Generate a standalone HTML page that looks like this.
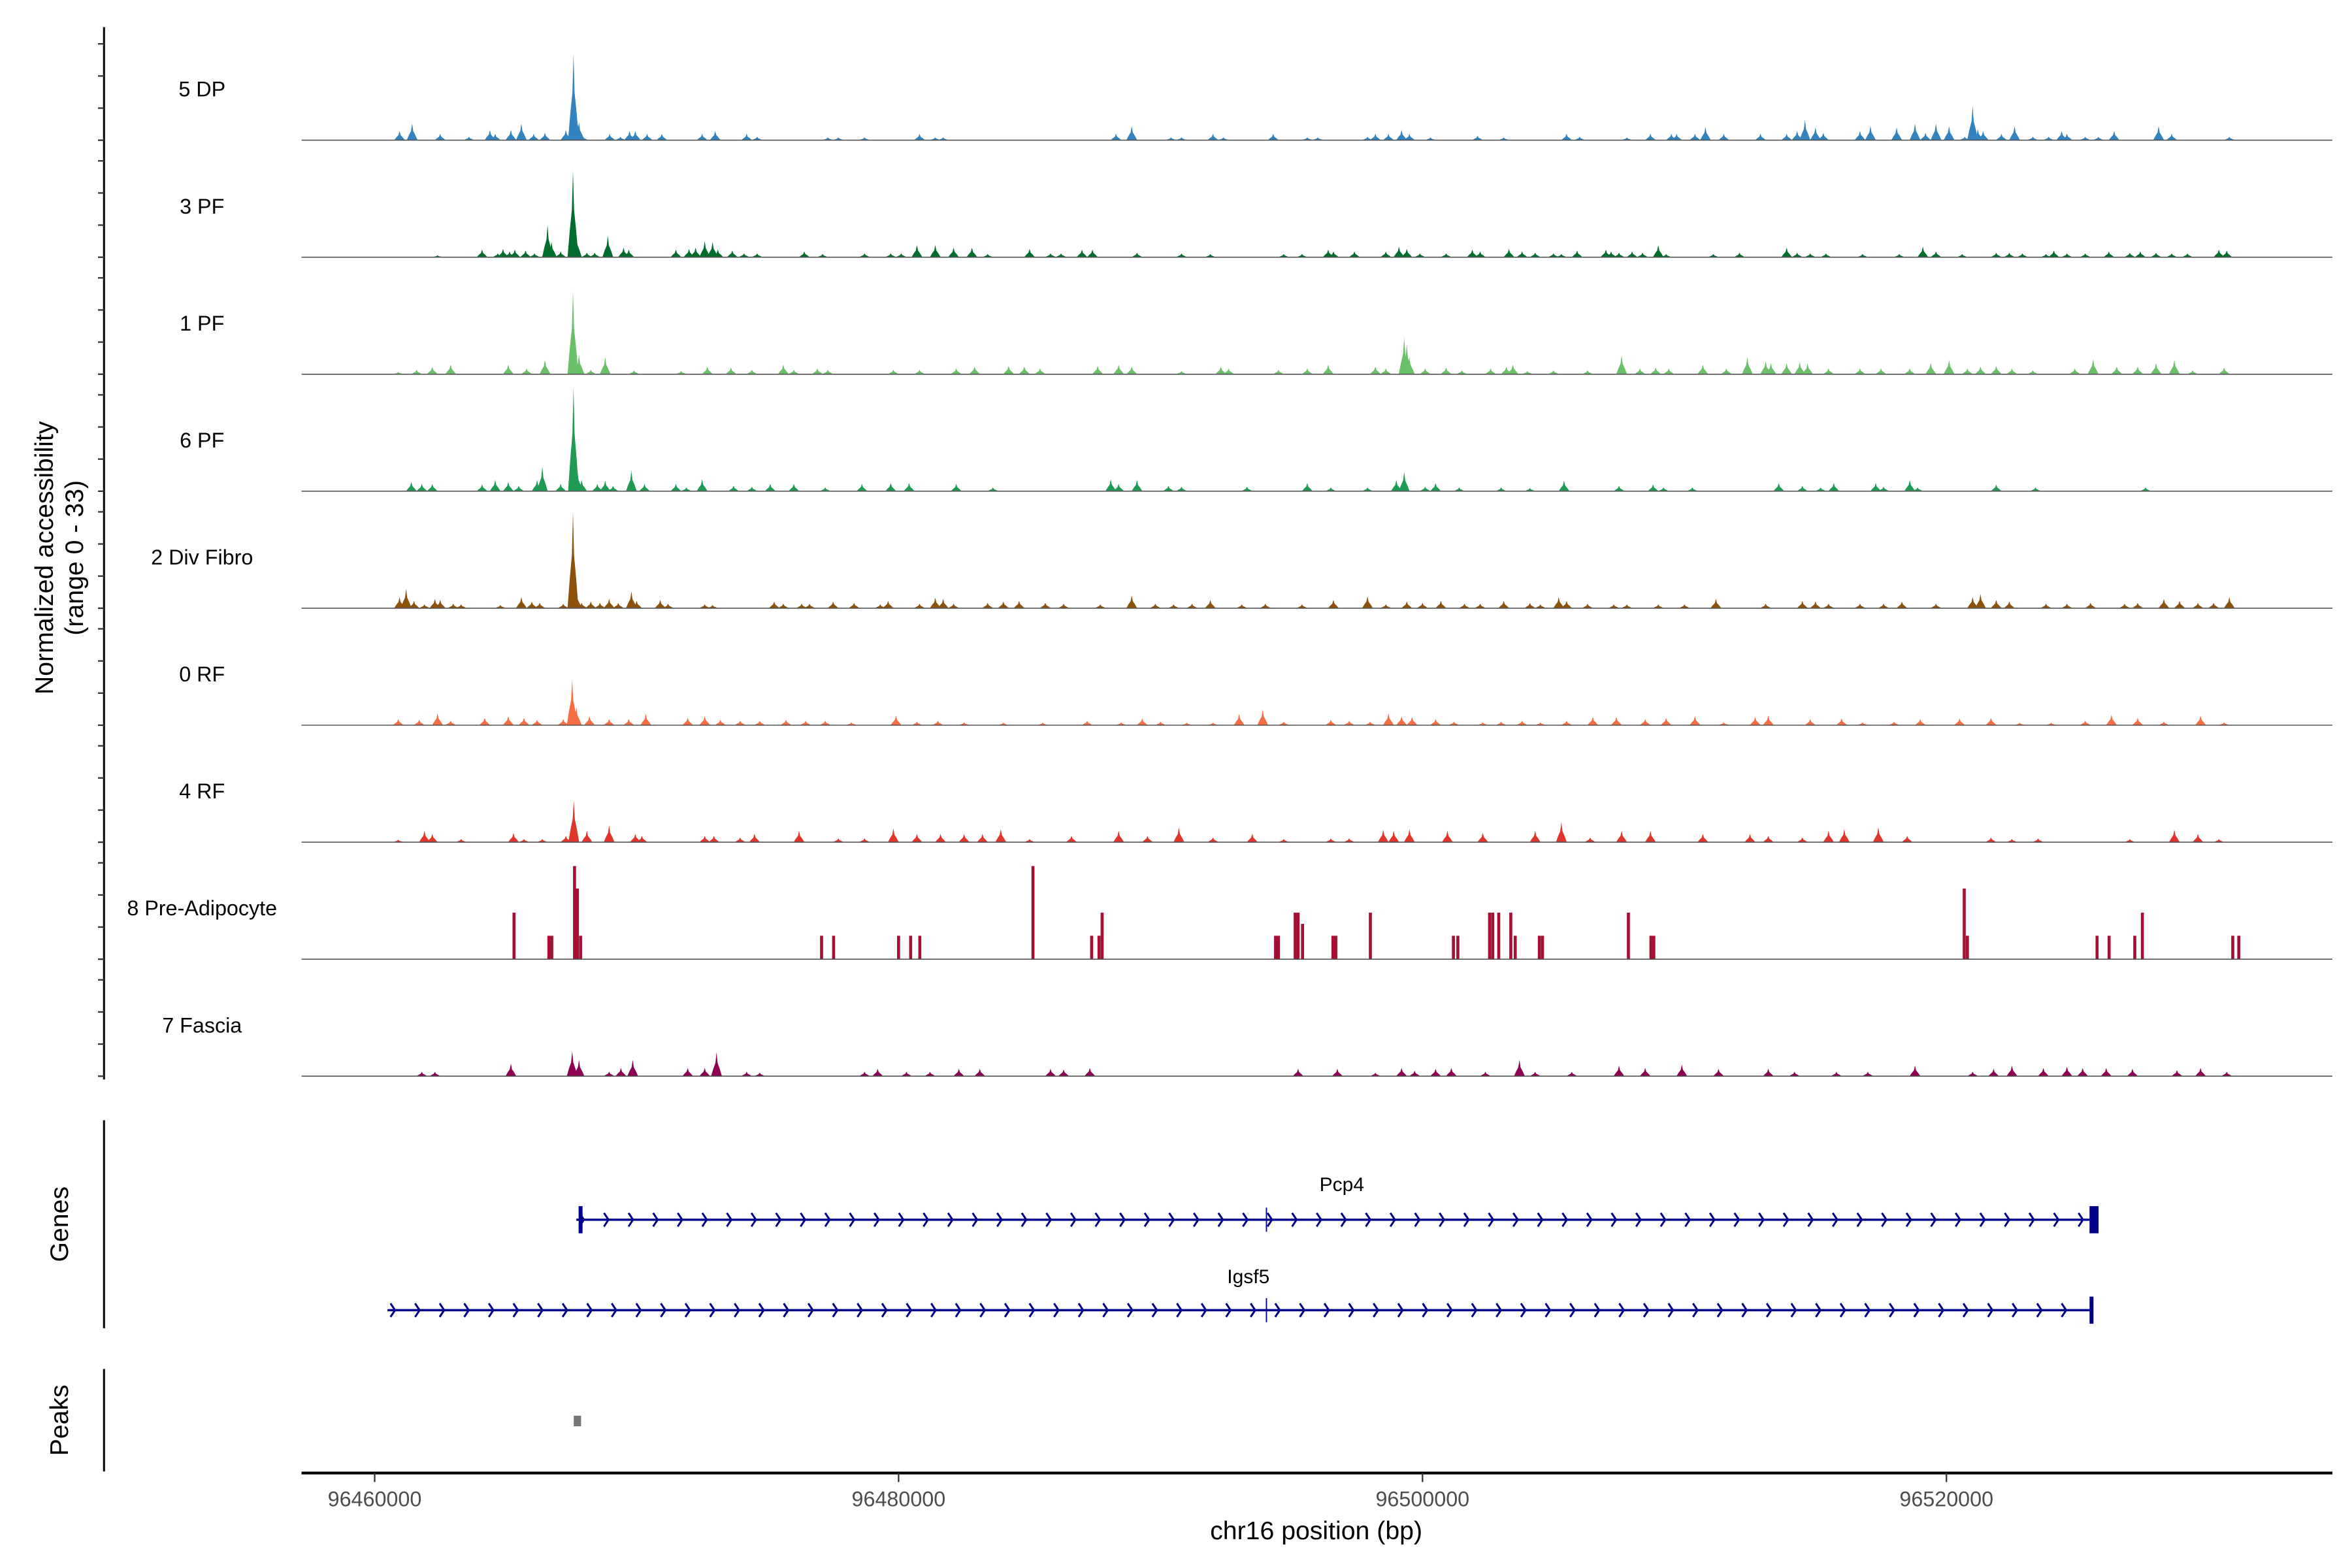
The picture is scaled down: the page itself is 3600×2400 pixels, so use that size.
<!DOCTYPE html>
<html><head><meta charset="utf-8"><title>Coverage plot chr16</title>
<style>
html,body{margin:0;padding:0;background:#fff;}
svg{display:block;font-family:"Liberation Sans",Arial,sans-serif;}
</style></head>
<body>
<svg id="chart" width="3600" height="2400" viewBox="0 0 1560 1040" xmlns="http://www.w3.org/2000/svg">
  <rect x="0" y="0" width="1560" height="1040" fill="#fff"/>
  <g id="tracks"></g>
  <g id="yaxis">
    <line x1="69" y1="18" x2="69" y2="716" stroke="#000" stroke-width="1.3"/>
  </g>
  <text x="0" y="0" transform="translate(35,370) rotate(-90)" text-anchor="middle" font-size="17" fill="#000">Normalized accessibility</text>
  <text x="0" y="0" transform="translate(55,370) rotate(-90)" text-anchor="middle" font-size="17" fill="#000">(range 0 - 33)</text>

  <line x1="69" y1="743" x2="69" y2="881" stroke="#000" stroke-width="1.3"/>
  <text transform="translate(45,812) rotate(-90)" text-anchor="middle" font-size="17">Genes</text>
  <line x1="69" y1="908" x2="69" y2="976" stroke="#000" stroke-width="1.3"/>
  <text transform="translate(45,942) rotate(-90)" text-anchor="middle" font-size="17">Peaks</text>
  <g id="genes"></g>
  <g id="peaks"></g>

  <g id="xaxis">
    <line x1="200" y1="977" x2="1547" y2="977" stroke="#000" stroke-width="1.8"/>
  </g>
  <text x="873" y="1021" text-anchor="middle" font-size="17" fill="#000">chr16 position (bp)</text>
</svg>
<script>
// ---- data (positions in kb from 96460000, values in normalized accessibility) ----
const trackNames = ["5 DP","3 PF","1 PF","6 PF","2 Div Fibro","0 RF","4 RF","8 Pre-Adipocyte","7 Fascia"];
const trackColors = ["#3182bd","#006d2c","#6abf69","#1f9a53","#8c510a","#f46d43","#e0352a","#a50f32","#8e0152"];
const xTicks = [96460000,96480000,96500000,96520000];
const yTickValues = [0,10,20,30];
const s5DP = [[0.95,2.9],[1.43,5.2],[2.5,2],[3.6,1.1],[4.4,3.2],[4.6,2],[5.2,3.2],[5.6,5.2],[6.07,2],[6.5,2.3],[7.3,3.2],[7.59,27],[7.7,9.2],[7.8,5.7],[7.95,1.2],[8.97,2],[9.38,1.1],[9.73,2.9],[9.95,2.9],[10.4,2],[10.96,2],[12.5,2],[13,2.9],[14.2,2],[14.6,1.1],[17.3,0.9],[17.7,0.9],[18.7,0.9],[20.8,2],[21.4,0.9],[21.7,0.9],[28.3,2],[28.9,4.4],[30.4,0.9],[30.8,0.9],[32,2],[32.4,0.9],[34.3,2],[35.6,0.9],[36.0,0.9],[37.9,1.1],[38.2,2],[38.7,2],[39.2,3.2],[39.5,2],[40.3,0.9],[42.1,1.4],[43.1,0.9],[45.5,2],[46,1.1],[47.8,0.9],[48.7,2],[49.5,2],[49.7,2],[50.4,2],[50.8,4.1],[51.5,2],[52.9,2],[53.9,2],[54.3,2.9],[54.6,6.3],[55,4],[55.3,2.3],[56.7,2.9],[57.1,4.4],[58.1,4],[58.8,5.2],[59.2,2.3],[59.6,5.2],[60.1,4.4],[60.7,1.1],[61,10.7],[61.2,3.4],[61.4,2.9],[62.1,2],[62.6,4.4],[63.3,1.1],[63.9,1.1],[64.4,2.9],[64.6,2],[65.3,1.1],[65.8,1.1],[66.4,2.9],[68.1,4.4],[68.6,2],[70.8,1.1]];
const s3PF = [[2.4,0.6],[4.1,2.4],[4.7,1.2],[4.9,2.6],[5.15,1.8],[5.35,2.4],[5.76,2.1],[6.1,1.2],[6.6,10],[6.75,4.8],[7.1,1.8],[7.57,27],[7.7,7],[8.1,1.4],[8.4,1.4],[8.9,6.7],[9.5,3],[9.7,2.4],[11.5,2.4],[12,2.6],[12.25,3],[12.6,5],[12.9,4.8],[13.1,2.4],[13.65,2.1],[14.1,1.2],[14.6,1.2],[16.4,1.8],[17.1,1],[18.7,1.2],[19.7,1.2],[20.1,1.2],[20.7,3.8],[21.4,3.8],[22.1,3],[22.8,3],[23.4,1],[25,2.6],[25.8,1.2],[26.2,1.2],[27,2.4],[27.4,2.4],[29.1,1.4],[30.8,1.2],[31.9,1],[34.7,1],[35.4,1],[36.4,2.4],[36.6,1.8],[37.4,1.8],[38.6,1.8],[39.1,3.3],[39.4,2.6],[39.9,1.2],[40.9,1.2],[41.9,2.4],[42.2,1.8],[43.3,2.6],[43.8,1.8],[44.3,1.4],[45,1.2],[45.3,1],[45.9,2.1],[47,2.4],[47.2,1.8],[47.5,1.4],[48,1.8],[48.4,1.4],[49,3.8],[49.3,1],[51.1,1],[52.1,1.4],[53.9,3],[54.3,1.4],[54.8,1.2],[55.4,1.2],[56.8,1],[58.2,1],[59.1,3.3],[59.6,1.8],[60.6,1],[61.9,1.4],[62.4,1.4],[62.9,1.2],[63.8,1],[64.1,2.1],[64.6,1.2],[65.3,1.2],[66.2,1.8],[67,1.4],[67.4,1.8],[68,1.4],[68.6,1.2],[69.2,1.2],[70.4,2.4],[70.7,2.1]];
const s1PF = [[0.9,0.7],[1.6,1.4],[2.2,2.3],[2.9,3],[5.1,3],[5.8,1.8],[6.5,4.5],[7.57,26],[7.8,6],[8.25,1.4],[8.8,5.3],[9.9,1.2],[11.7,1],[12.7,2.4],[13.6,2.1],[14.4,1.4],[15.6,3],[16,1.4],[16.9,1.8],[17.3,1.4],[19.8,1.4],[20.8,1.4],[22.2,1.8],[22.9,2.4],[24.2,2.6],[24.8,2.4],[25.4,1.8],[27.6,2.6],[28.4,3],[28.9,2.4],[30.8,1],[32.3,2.4],[32.6,1.8],[34.5,1.4],[35.6,1.8],[36.4,3],[38.2,2.4],[38.6,1.8],[39.3,11.5],[39.4,9.4],[39.5,5.3],[40.1,1.8],[40.9,2.1],[41.5,1.2],[42.6,1.8],[43.2,2.4],[43.45,3],[44,1],[45,1.2],[46.3,1.2],[47.6,5.9],[48.3,1.8],[48.9,2.1],[49.4,1.8],[50.7,3],[51.6,1.8],[52.4,5.3],[53.1,4.1],[53.3,3.5],[53.9,3.5],[54.4,3.8],[54.7,3.3],[55.5,1.8],[56.7,1.8],[57.5,1.8],[58.6,1.8],[59.4,3.5],[60.1,4.5],[60.8,1.8],[61.3,2.4],[61.9,2.6],[62.5,1.8],[63.3,1.2],[64.9,1.8],[65.6,4.7],[66.5,2.4],[67.3,2.4],[68,3.5],[68.7,4.5],[69.4,1.2],[70.6,2.1]];
const s6PF = [[1.4,2.9],[1.8,2.3],[2.2,2.3],[4.1,2.1],[4.6,3.5],[5.1,2.9],[5.5,1.7],[6.2,3.5],[6.4,7.6],[7.1,2.3],[7.59,32.5],[7.74,6.4],[7.9,3.5],[8.5,2.3],[8.8,3.3],[9.1,1.7],[9.8,6.4],[10.3,2.3],[11.5,2.3],[11.9,1.2],[12.5,3.7],[13.7,1.7],[14.4,1.4],[15.1,2.3],[16,2.3],[17.2,1.2],[18.6,2.3],[19.7,2.6],[20.4,2.6],[22.2,2.3],[23.6,1.2],[28.1,3.7],[28.4,2.3],[29.1,3.5],[30.3,1.7],[30.8,1.4],[33.3,1.4],[35.6,2.6],[36.5,1.2],[37.9,1.2],[39,3.5],[39.3,6],[40.1,1.4],[40.5,2.6],[41.4,1.2],[43,1.2],[44.1,1],[45.4,3.3],[47.5,1.7],[48.8,2.1],[49.2,1.2],[50.3,1.2],[53.6,2.6],[54.5,1.7],[55.2,1.2],[55.7,2.6],[57.3,2.6],[57.6,1.4],[58.6,3.5],[58.9,1.2],[61.9,2.1],[63.4,1.2],[67.6,1.2]];
const s2Div = [[0.95,3.5],[1.2,6],[1.5,2.3],[1.9,1.2],[2.3,2.9],[2.5,2.6],[3.0,1.4],[3.3,1.2],[4.8,1],[5.6,3.5],[6.0,2.1],[6.3,1.7],[7.2,1.4],[7.57,30],[7.7,5.2],[7.9,1.7],[8.25,2.1],[8.6,1.7],[8.95,2.9],[9.3,1.7],[9.8,5.2],[10,2.3],[10.9,2.6],[11.2,1.4],[12.6,1.2],[12.9,1],[15.25,2.1],[15.6,1.4],[16.3,1.4],[16.6,1.4],[17.5,2.1],[18.3,1.7],[19.3,1.2],[19.6,2.3],[20.8,1.4],[21.4,3.3],[21.7,2.9],[22.1,1.4],[23.4,1.7],[24,2.1],[24.6,2.3],[25.6,1.7],[26.3,1.4],[27.7,1.2],[28.9,4],[29.8,1.4],[30.5,1.2],[31.2,1.4],[31.9,2.6],[33.1,1.2],[34,1.4],[35.4,1.2],[36.6,2.6],[37.9,3.7],[38.6,1.2],[39.4,2.1],[40,1.7],[40.7,2.3],[41.6,1.4],[42.2,1.4],[43.1,2.3],[44.1,1.7],[44.5,1.2],[45.2,3.5],[45.5,2.3],[46.3,1.4],[47.3,1.2],[47.8,1.2],[49,1.2],[50,1.2],[51.2,2.9],[53.1,1.4],[54.5,2.3],[55,2.1],[55.5,1.4],[56.7,1.4],[57.6,1.4],[58.3,2.1],[59.6,1.4],[61,3.5],[61.3,4.4],[61.9,2.6],[62.4,2.1],[63.8,1.4],[64.6,1.4],[65.5,1.7],[66.8,1.4],[67.3,1.7],[68.3,2.9],[68.9,2.3],[69.6,1.7],[70.2,1.7],[70.8,3.5]];
const s0RF = [[0.9,1.9],[1.7,1.7],[2.4,3.7],[2.9,1.4],[4.2,2.3],[5.1,2.8],[5.7,2.3],[6.2,1.7],[7.2,1.9],[7.54,14.2],[7.7,5.6],[8.2,2.8],[8.95,1.9],[9.7,1.9],[10.35,3.5],[11.95,2.3],[12.6,2.8],[13.2,1.7],[13.95,1.4],[14.7,1.4],[15.7,1.7],[16.45,1.4],[17.2,1.4],[18.2,0.9],[19.9,3],[20.7,1.1],[21.5,1.4],[22.5,0.9],[24,0.8],[25.5,0.8],[27.2,1.4],[28.5,0.9],[29.3,2.1],[30,1.1],[31,0.8],[32,0.8],[33,3.5],[33.9,4.9],[34.7,1.1],[36.5,1.7],[37.2,1.4],[38,1.1],[38.7,3.7],[39.2,2.8],[39.6,2.6],[40.5,1.9],[41.2,1.1],[42.3,0.9],[43,1.1],[43.8,1.4],[44.5,0.9],[45.5,1.4],[46.5,2.6],[47.4,2.6],[48.5,1.9],[49.3,2.3],[50.4,2.8],[51.5,0.9],[52.7,2.6],[53.2,3],[54.8,1.9],[56,2.1],[56.8,0.9],[58,1.1],[59,1.9],[60.5,2.1],[61.7,2.3],[62.8,0.8],[64,0.8],[65.3,1.4],[66.3,3.3],[67.3,2.3],[68.3,1.1],[69.7,3],[70.6,0.9]];
const s4RF = [[0.9,0.8],[1.9,3.6],[2.2,2.6],[3.3,1],[5.3,2.9],[5.7,1],[6.4,1],[7.3,2],[7.6,13],[8.1,3.6],[8.95,5.3],[9.95,2.6],[10.2,2],[12.6,2],[12.95,2],[13.95,1.5],[14.5,2.6],[16.2,3.6],[17.7,1.2],[18.7,1.2],[19.8,4.3],[20.7,2.6],[21.6,2.6],[22.5,2.6],[23.2,2.6],[23.9,4.1],[25,1],[26.6,2],[28.4,3.6],[29.5,2],[30.7,4.6],[32,1.5],[33.5,2.6],[34.7,1],[36.5,1.2],[37.2,1.2],[38.5,3.9],[38.9,3.6],[39.5,4.1],[40.95,3.6],[42.3,2.9],[44.3,3.6],[45.3,6.3],[46.4,1.5],[47.6,3.6],[48.7,3.6],[50.7,2.6],[52.5,2.6],[53.2,2],[54.5,1.5],[55.5,3.6],[56.1,4.1],[57.4,4.6],[58.5,2],[61.7,1.5],[62.5,1],[63.5,1.2],[67,1],[68.7,3.9],[69.6,2.6],[70.4,1]];
const s8PreAd = [[5.32,14.5],[6.65,7.3],[6.76,7.3],[7.63,29],[7.74,22],[7.86,7.3],[17.06,7.3],[17.52,7.3],[20.0,7.3],[20.46,7.3],[20.81,7.3],[25.13,29],[27.37,7.3],[27.65,7.3],[27.77,14.5],[34.39,7.3],[34.5,7.3],[35.14,14.5],[35.25,14.5],[35.42,11],[36.58,7.3],[36.69,7.3],[38.01,14.5],[41.18,7.3],[41.35,7.3],[42.56,14.5],[42.68,14.5],[42.91,14.5],[43.37,14.5],[43.54,7.3],[44.46,7.3],[44.58,7.3],[47.86,14.5],[48.72,7.3],[48.83,7.3],[60.68,22],[60.8,7.3],[65.75,7.3],[66.21,7.3],[67.19,7.3],[67.48,14.5],[70.93,7.3],[71.16,7.3]];
const s7Fascia = [[1.8,1.4],[2.3,1.4],[5.2,3.9],[7.54,7.8],[7.8,5.1],[8.95,1.4],[9.4,2.6],[9.85,5.1],[11.95,2.6],[12.6,2.6],[13.05,7.5],[14.2,1.4],[14.7,1.1],[18.7,1.4],[19.2,2.3],[20.3,1.4],[21.2,1.4],[22.3,2.3],[23.1,2.3],[25.8,2.3],[26.3,2.1],[27.3,2.6],[35.25,2.3],[36.75,2.3],[38.2,1.1],[39.2,2.6],[39.7,1.7],[40.5,2.3],[41.1,2.6],[42.4,1.4],[43.7,5.1],[44.3,1.4],[45.7,1.4],[47.5,3.3],[48.5,2.6],[49.9,3.6],[51.3,2.3],[53.2,2.3],[54.2,1.4],[55.8,1.4],[57,1.4],[58.8,3.3],[61,1.4],[61.8,2.3],[62.5,3.3],[63.7,2.6],[64.6,3],[65.2,2.6],[66.1,2.6],[67.1,2.3],[68.8,1.9],[69.7,2.6],[70.7,1.4]];
const geneNames = ["Pcp4","Igsf5"];
const geneStarts = [96467700,96460490];
const geneEnds = [96525750,96525550];
const peakStarts = [96467600];
const peakEnds = [96467880];

const allSeries = [s5DP,s3PF,s1PF,s6PF,s2Div,s0RF,s4RF,s8PreAd,s7Fascia];

// ---- scales ----
const ORIGIN = 96460000;
function xKb(kb){ return 248.5 + kb*17.375; }
function xBp(bp){ return xKb((bp-ORIGIN)/1000); }
function baseOf(i){ return 93 + i*77.6; }
function yVal(v,i){ return baseOf(i) - v*2.13; }

const NS = "http://www.w3.org/2000/svg";
function mk(tag, attrs, parent){
  const e = document.createElementNS(NS, tag);
  for (const k in attrs) e.setAttribute(k, attrs[k]);
  parent.appendChild(e);
  return e;
}

const tracksG = document.getElementById('tracks');
const yaxisG = document.getElementById('yaxis');
allSeries.forEach((series, i) => {
  const g = mk('g', {}, tracksG);
  
  
  const lbl = mk('text', {x:134, y:baseOf(i)-29, 'text-anchor':'middle', 'font-size':14, fill:'#000'}, g);
  lbl.textContent = trackNames[i];
  
  
  series.forEach(([kb, v]) => {
    const x = xKb(kb), b = baseOf(i), t = yVal(v, i);
    let el;
    if (i === 7) {
      el = mk('rect', {x: x-1, y: t, width: 2, height: b-t, fill: trackColors[i]}, g);
    } else {
      const w = 3.6, h = b - t;
      const pts = [[x-w,b],[x-w*0.6,b-h*0.3],[x-w*0.2,b-h*0.55],[x,t],[x+w*0.2,b-h*0.55],[x+w*0.6,b-h*0.3],[x+w,b]].map(p=>p.join(',')).join(' ');
      el = mk('polygon', {points: pts, fill: trackColors[i]}, g);
    }
    
    
  });
  const bl = mk('line', {x1:200, x2:1547, y1:baseOf(i), y2:baseOf(i), stroke:'#555', 'stroke-width':0.7}, g);
  
  
  yTickValues.forEach(tv => {
    const tk = mk('line', {x1:65, x2:69, y1:yVal(tv,i), y2:yVal(tv,i), stroke:'#333', 'stroke-width':1}, yaxisG);
    
    
  });
});

// ---- genes ----
const genesG = document.getElementById('genes');
const geneY = [809, 869];
const geneLabelY = [790, 851];
const geneLabelX = [890, 828];
geneNames.forEach((name, gi) => {
  const g = mk('g', {}, genesG);
  
  
  const x1 = xBp(geneStarts[gi]), x2 = xBp(geneEnds[gi]), y = geneY[gi];
  const c = '#00008b';
  const ln = mk('line', {x1:x1, x2:x2, y1:y, y2:y, stroke:c, 'stroke-width':1.5}, g);
  
  
  for (let x = x1 + 2; x < x2 - 6; x += 16.3) {
    const ch = mk('polyline', {points: (x)+','+(y-4.5)+' '+(x+3)+','+y+' '+(x)+','+(y+4.5), fill:'none', stroke:c, 'stroke-width':1.3}, g);
    
    
  }
  const mid = mk('line', {x1:840, x2:840, y1:y-8, y2:y+8, stroke:c, 'stroke-width':0.8}, g);
  
  
  if (gi === 0) {
    const s = mk('rect', {x:x1+1.5, y:y-9, width:2.6, height:18, fill:c}, g);
    
    
    const e = mk('rect', {x:x2-5, y:y-9, width:6, height:18, fill:c}, g);
    
    
  } else {
    const e = mk('rect', {x:x2-1.5, y:y-9, width:2.6, height:18, fill:c}, g);
    
    
  }
  const t = mk('text', {x:geneLabelX[gi], y:geneLabelY[gi], 'text-anchor':'middle', 'font-size':13, fill:'#000'}, g);
  t.textContent = name;
  
  
});

// ---- peaks ----
const peaksG = document.getElementById('peaks');
peakStarts.forEach((ps, pi) => {
  const r = mk('rect', {x:xBp(ps), y:939, width:Math.max(xBp(peakEnds[pi])-xBp(ps),4), height:7, fill:'#777'}, peaksG);
  
  
});

// ---- x axis ----
const xaxisG = document.getElementById('xaxis');
xTicks.forEach(v => {
  const x = xBp(v);
  const tk = mk('line', {x1:x, x2:x, y1:977, y2:983, stroke:'#333', 'stroke-width':1}, xaxisG);
  
  
  const t = mk('text', {x:x, y:999, 'text-anchor':'middle', 'font-size':14, fill:'#4d4d4d'}, xaxisG);
  t.textContent = String(v);
  
  
});
</script>
</body></html>
